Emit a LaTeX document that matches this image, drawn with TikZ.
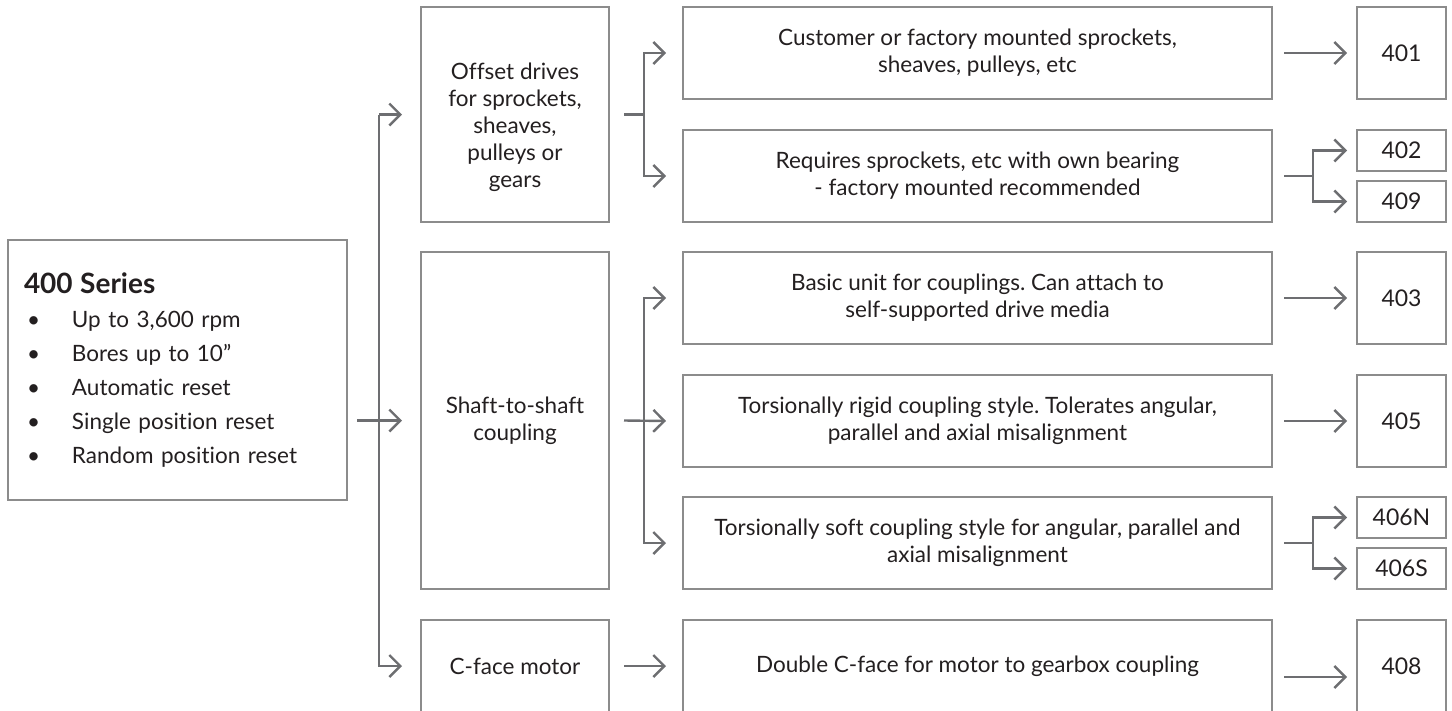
\documentclass[tikz,border=0pt]{standalone}
\usepackage{fontspec}
\setmainfont{Lato}[Ligatures=NoCommon]
\usetikzlibrary{arrows.meta,positioning}
\frenchspacing

\definecolor{boxgray}{HTML}{8C8C8C}
\definecolor{arrowgray}{HTML}{6D6E71}
\definecolor{textblack}{HTML}{231F20}
\newcommand{\bul}{\hspace*{3pt}\makebox[45pt][l]{\textbullet}}

\begin{document}
\begin{tikzpicture}[x=1pt,y=-1pt,
  box/.style={draw=boxgray, line width=1.4pt, outer sep=0pt, text=textblack, inner sep=0pt, align=center, font=\fontsize{22.5}{27}\selectfont},
  midbox/.style={box, minimum width=188pt},
  descbox/.style={box, minimum width=589pt, minimum height=92pt},
  numbox/.style={box, minimum width=89pt, font=\fontsize{23}{27}\selectfont},
  line/.style={draw=arrowgray, line width=2.4pt},
  arr/.style={line, -{Straight Barb[length=11pt,width=22pt]}}]
\useasboundingbox (0,0) rectangle (1452,710);

%Nodes
\node[box, anchor=north west, minimum width=339pt, minimum height=260pt, text width=307pt, align=left, font=\fontsize{22.5}{34}\selectfont] (series) at (8,240)
  {{\fontsize{28}{30}\selectfont\bfseries 400 Series}\\
   \bul Up to 3,600 rpm\\
   \bul Bores up to 10”\\
   \bul Automatic reset\\
   \bul Single position reset\\
   \bul Random position reset};

\node[midbox, anchor=north west, minimum height=215pt] (offset) at (421,7) {\rule{0pt}{42pt}Offset drives\\for sprockets,\\sheaves,\\pulleys or\\gears};
\node[midbox, minimum height=337pt, below=30pt of offset] (shaft) {Shaft-to-shaft\\coupling};
\node[midbox, minimum height=92pt, below=31pt of shaft] (cface) {C-face motor};

\node[descbox, anchor=north west] (cust) at (683,7) {Customer or factory mounted sprockets,\\sheaves, pulleys, etc};
\node[descbox, below=31pt of cust] (req) {Requires sprockets, etc with own bearing\\- factory mounted recommended};
\node[descbox, below=30pt of req] (basic) {Basic unit for couplings. Can attach to\\self-supported drive media};
\node[descbox, below=31pt of basic] (rigid) {Torsionally rigid coupling style. Tolerates angular,\\parallel and axial misalignment};
\node[descbox, below=30pt of rigid] (soft) {Torsionally soft coupling style for angular, parallel and\\axial misalignment};
\node[descbox, below=31pt of soft] (dbl) {Double C-face for motor to gearbox coupling};

\node[numbox, minimum height=92pt, right=85pt of cust] (n401) {401};
\node[numbox, minimum height=41pt, anchor=north west] (n402) at ([xshift=85pt]req.north east) {402};
\node[numbox, minimum height=41pt, anchor=south west] (n409) at ([xshift=85pt]req.south east) {409};
\node[numbox, minimum height=92pt, right=85pt of basic] (n403) {403};
\node[numbox, minimum height=92pt, right=85pt of rigid] (n405) {405};
\node[numbox, minimum height=41pt, anchor=north west] (n406n) at ([xshift=85pt]soft.north east) {406N};
\node[numbox, minimum height=41pt, anchor=south west] (n406s) at ([xshift=85pt]soft.south east) {406S};
\node[numbox, minimum height=92pt, right=85pt of dbl] (n408) {408};

%Trunk
\coordinate (trunk) at (379,0);
\coordinate (lout) at ([xshift=10pt]series.east);
\draw[arr] (lout |- shaft.west) -- ([xshift=-19pt]shaft.west);
\draw[arr] (trunk |- offset.west) -- ([xshift=-19pt]offset.west);
\draw[arr] (trunk |- offset.west) |- ([xshift=-19pt]cface.west);

%Middle to descriptions
\coordinate (osplit) at ([xshift=35pt]offset.east);
\draw[line] ([xshift=15pt]offset.east) -- (osplit);
\draw[arr] (osplit) |- ([xshift=-17pt]cust.west);
\draw[arr] (osplit) |- ([xshift=-17pt]req.west);

\coordinate (ssplit) at ([xshift=35pt]shaft.east);
\draw[arr] ([xshift=15pt]shaft.east) -- ([xshift=-17pt]rigid.west);
\draw[arr] (ssplit) |- ([xshift=-17pt]basic.west);
\draw[arr] (ssplit) |- ([xshift=-17pt]soft.west);

\draw[arr] ([xshift=15pt]cface.east) -- ([xshift=-17pt]dbl.west);

%Descriptions to numbers
\draw[arr] ([xshift=12pt]cust.east) -- ([xshift=-10pt]n401.west);
\draw[arr] ([xshift=12pt]basic.east) -- ([xshift=-10pt]n403.west);
\draw[arr] ([xshift=12pt]rigid.east) -- ([xshift=-10pt]n405.west);
\draw[arr] ([xshift=12pt,yshift=-11pt]dbl.east) -- ([xshift=-10pt,yshift=-11pt]n408.west);

\coordinate (rsplit) at ([xshift=41pt]req.east);
\draw[line] ([xshift=12pt]req.east) -- (rsplit);
\draw[arr] (rsplit) |- ([xshift=-10pt]n402.west);
\draw[arr] (rsplit) |- ([xshift=-10pt]n409.west);

\coordinate (tsplit) at ([xshift=41pt]soft.east);
\draw[line] ([xshift=12pt]soft.east) -- (tsplit);
\draw[arr] (tsplit) |- ([xshift=-10pt]n406n.west);
\draw[arr] (tsplit) |- ([xshift=-10pt]n406s.west);
\end{tikzpicture}
\end{document}
